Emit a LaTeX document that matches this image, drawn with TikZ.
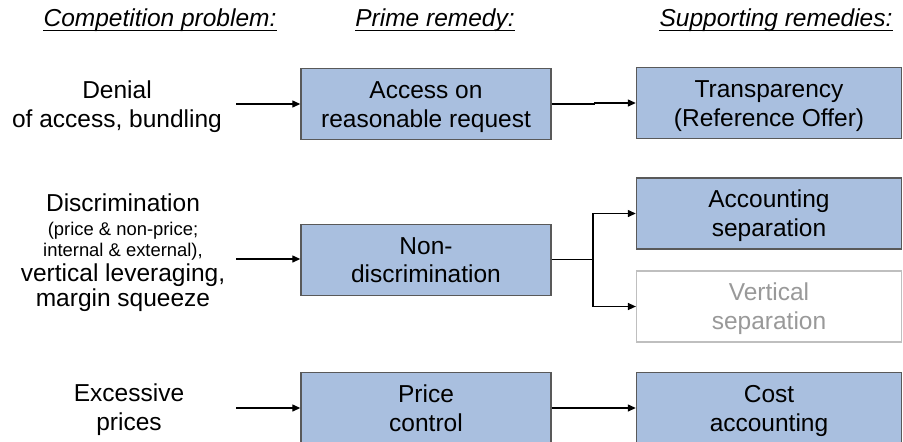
\documentclass[tikz,border=0pt]{standalone}
\usepackage{fontspec}
\setmainfont{Liberation Sans}
\usetikzlibrary{arrows.meta}
\definecolor{boxfill}{HTML}{A9BFDF}
\definecolor{boxline}{HTML}{595959}
\definecolor{greyline}{HTML}{BFBFBF}
\definecolor{greytext}{HTML}{999999}
\newcommand\twolines[2]{\rule{0pt}{24pt}#1\\#2\rule[-6.7pt]{0pt}{6.7pt}}
\begin{document}
\begin{tikzpicture}[x=1pt,y=-1pt,
  big/.style={font=\fontsize{24.5}{28.7}\selectfont},
  small/.style={font=\fontsize{18.4}{21}\selectfont},
  header/.style={font=\fontsize{24.5}{28.7}\selectfont\itshape, anchor=base, inner sep=0pt},
  remedy/.style={draw=boxline, fill=boxfill, line width=1.4pt, minimum width=250pt,
    minimum height=71pt, align=center, inner sep=0pt, big},
  support/.style={remedy, minimum width=265pt},
  faded/.style={support, fill=white, draw=greyline, text=greytext, line width=1.2pt},
  problem/.style={big, align=center, inner sep=0pt},
  line/.style={anchor=base, inner sep=0pt},
  arr/.style={-{Triangle[length=8pt,width=7pt]}, line width=1.3pt},
  uline/.style={line width=1.4pt}]
\clip (0,0) rectangle (903,442);

% headers
\node[header] (h1) at (160,26.7) {Competition problem:};
\node[header] (h2) at (435,26.7) {Prime remedy:};
\node[header] (h3) at (776,26.7) {Supporting remedies:};
\foreach \h in {h1,h2,h3}
  \draw[uline] ([yshift=-4pt]\h.base west) -- ([yshift=-4pt]\h.base east);

% remedy boxes
\node[remedy] (acc) at (426,104) {\twolines{Access on}{reasonable request}};
\node[support] (tr) at (769,103) {\twolines{Transparency}{(Reference Offer)}};
\node[remedy] (nd) at (426,259.7) {\twolines{Non-}{discrimination}};
\node[support] (as) at (769,213.5) {\twolines{Accounting}{separation}};
\node[faded] (vs) at (769,306.5) {\twolines{Vertical}{separation}};
\node[remedy] (pc) at (426,408) {\twolines{Price}{control}};
\node[support] (ca) at (769,408) {\twolines{Cost}{accounting}};

% competition problems
\node[problem] (den) at (117,104) {\twolines{Denial}{of access, bundling}};
\node[big, line] (d1) at (123,211.7) {Discrimination};
\node[small, line] (d2) at (123,235) {(price \& non-price;};
\node[small, line] (d3) at (123,256.7) {internal \& external),};
\node[big, line] (d4) at (123,281.7) {vertical leveraging,};
\node[big, line] (d5) at (123,306.7) {margin squeeze};
\node[problem] (exc) at (129,407.4) {\twolines{Excessive}{prices}};

% connectors
\coordinate (s1) at (236,104);
\coordinate (s2) at (236,259);
\coordinate (s3) at (236,408);
\coordinate (br) at (593,259.7);
\draw[arr] (s1) -- (s1 -| acc.west);
\draw[arr] (s2) -- (s2 -| nd.west);
\draw[arr] (s3) -- (s3 -| pc.west);
\draw[arr] (acc.east) -- ++(42.5,0) |- (tr.west);
\draw[arr] (nd.east) -- (br) |- (as.west);
\draw[arr] (br) |- (vs.west);
\draw[arr] (pc.east) -- (ca.west);
\end{tikzpicture}
\end{document}
